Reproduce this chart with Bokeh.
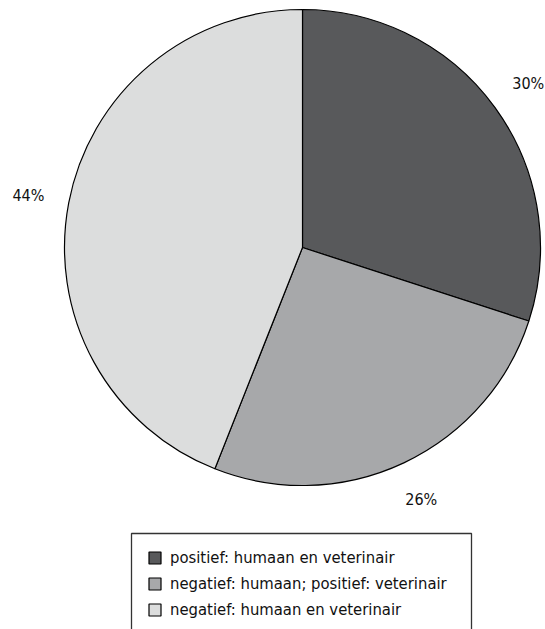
import math

from bokeh.core.properties import value
from bokeh.embed import file_html
from bokeh.models import ColumnDataSource, Legend, LegendItem, Range1d
from bokeh.plotting import figure
from bokeh.resources import INLINE

# Share of samples per test outcome
categories = [
    "positief: humaan en veterinair",
    "negatief: humaan; positief: veterinair",
    "negatief: humaan en veterinair",
]
percentages = [30, 26, 44]
colors = ["#58595b", "#a7a8aa", "#dcdddd"]

FONT = "DejaVu Sans Condensed, Roboto, sans-serif"
W, H = 545, 629
CX, CY, R = 302, 382, 238
LABEL_R = 279

# slices run clockwise from 12 o'clock
total = sum(percentages)
starts, ends, lx, ly, texts = [], [], [], [], []
cum = 0.0
for pct in percentages:
    a0 = math.pi / 2 - 2 * math.pi * cum / total
    cum += pct
    a1 = math.pi / 2 - 2 * math.pi * cum / total
    starts.append(a0)
    ends.append(a1)
    mid = (a0 + a1) / 2
    lx.append(CX + LABEL_R * math.cos(mid))
    ly.append(CY + LABEL_R * math.sin(mid))
    texts.append(f"{pct}%")

src = ColumnDataSource(dict(
    x=[CX] * len(percentages), y=[CY] * len(percentages),
    start=starts, end=ends, color=colors, cat=categories,
))

p = figure(width=W, height=H, output_backend="svg", toolbar_location=None,
           x_range=Range1d(0, W), y_range=Range1d(0, H), min_border=0)
p.axis.visible = False
p.grid.visible = False
p.outline_line_color = None
p.background_fill_color = "white"

wedges = p.wedge(x="x", y="y", radius=R, start_angle="start", end_angle="end",
                 direction="clock", fill_color="color", line_color="black",
                 line_width=1.2, source=src)

p.text(x=lx, y=ly, text=texts, text_font=value(FONT), text_font_size="16px",
       text_align="center", text_baseline="middle", text_color="#111111")

# open-bottomed frame around the legend
box_top = H - 533
p.line(x=[131, 131, 471, 471], y=[-10, box_top, box_top, -10],
       line_color="#333333", line_width=1.3)

items = [LegendItem(label=c, renderers=[wedges], index=i)
         for i, c in enumerate(categories)]
legend = Legend(items=items, location=(139, 0), orientation="vertical",
                padding=8, spacing=2, margin=0,
                glyph_width=15, glyph_height=15, label_height=24,
                label_standoff=8, label_text_font=FONT,
                label_text_font_size="16.5px", label_text_color="#111111",
                border_line_alpha=0, background_fill_alpha=0)
p.add_layout(legend)

open("out.html", "w").write(file_html(p, INLINE))
